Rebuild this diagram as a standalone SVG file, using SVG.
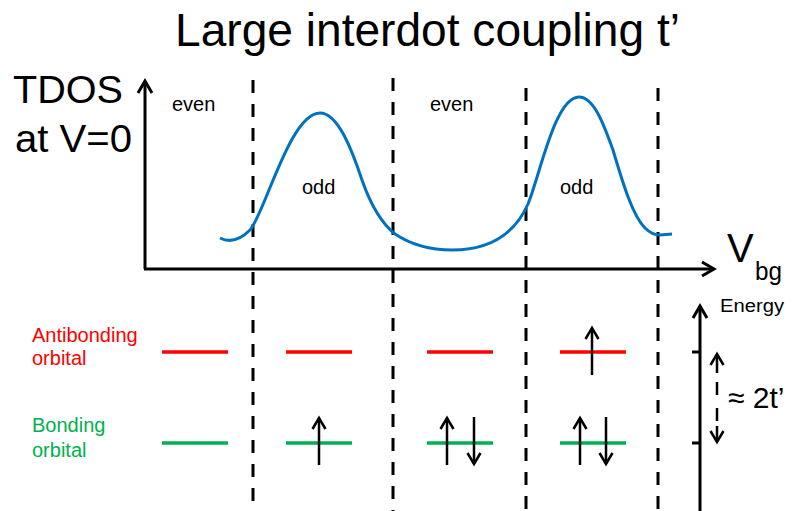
<svg xmlns="http://www.w3.org/2000/svg" width="795" height="511" viewBox="0 0 795 511">
<defs>
<style>
text{font-family:"Liberation Sans",Arial,sans-serif;fill:#000}
.ax{stroke:#000;stroke-width:3;fill:none}
.dash{stroke:#000;stroke-width:3;stroke-dasharray:13 11;fill:none}
.anti{stroke:#FF0000;stroke-width:3.5}
.bond{stroke:#00B050;stroke-width:3.5}
.spin{stroke:#000;stroke-width:2.5;fill:none}
.lbl{font-size:20px}
.red{fill:#FF0000}
.grn{fill:#00B050}
</style>
<marker id="ah" markerUnits="userSpaceOnUse" markerWidth="20" markerHeight="20" viewBox="-14 -10 18 20" refX="0" refY="0" orient="auto">
<path d="M-12,-7 L0,0 L-12,7" fill="none" stroke="#000" stroke-width="3" stroke-linejoin="miter"/>
</marker>
<marker id="sh" markerUnits="userSpaceOnUse" markerWidth="20" markerHeight="20" viewBox="-14 -10 18 20" refX="0" refY="0" orient="auto">
<path d="M-11,-6.5 L0,0 L-11,6.5" fill="none" stroke="#000" stroke-width="2.5"/>
</marker>
</defs>
<rect width="795" height="511" fill="#fff"/>
<g id="title"><text x="175" y="46" font-size="46" textLength="505" lengthAdjust="spacingAndGlyphs">Large interdot coupling t’</text></g>
<g id="tdos-label">
<text x="13" y="103" font-size="38" textLength="110" lengthAdjust="spacingAndGlyphs">TDOS</text>
<text x="15" y="152" font-size="38" textLength="117" lengthAdjust="spacingAndGlyphs">at V=0</text>
</g>
<g id="vbg-label">
<text x="727" y="262" font-size="40">V</text>
<text x="755" y="280" font-size="26" textLength="27" lengthAdjust="spacingAndGlyphs">bg</text>
</g>
<g id="connectors">
<line class="ax" x1="145" y1="269" x2="145" y2="81" marker-end="url(#ah)"/>
<line class="ax" x1="144" y1="269" x2="714" y2="269" marker-end="url(#ah)"/>
<line class="dash" x1="253" y1="80" x2="253" y2="511"/>
<line class="dash" x1="393" y1="78" x2="393" y2="511"/>
<line class="dash" x1="526" y1="88" x2="526" y2="511"/>
<line class="dash" x1="658" y1="88" x2="658" y2="511"/>
<line class="ax" x1="700" y1="511" x2="700" y2="306" marker-end="url(#ah)"/>
<line class="ax" x1="692" y1="352" x2="700" y2="352"/>
<line class="ax" x1="692" y1="443" x2="700" y2="443"/>
</g>
<g id="tdos-curve">
<path d="M220,238 C228,242 238,242 250,230 C265,213 290,113 320,113 C338,113 352,150 362,180 C370,203 380,222 395,234 C410,244 430,250 452,250 C482,250 512,240 528,204 C540,175 555,97 579,97 C594,97 604,125 613,150 C622,180 632,215 645,228 C650,233 655,235 660,235 L672,234" fill="none" stroke="#0070C0" stroke-width="3"/>
</g>
<g id="region-labels">
<text class="lbl" x="172" y="111">even</text>
<text class="lbl" x="302" y="194">odd</text>
<text class="lbl" x="430" y="111">even</text>
<text class="lbl" x="560" y="194">odd</text>
</g>
<g id="antibonding-label">
<text class="lbl red" x="32" y="342">Antibonding</text>
<text class="lbl red" x="32" y="365">orbital</text>
</g>
<g id="bonding-label">
<text class="lbl grn" x="32" y="432">Bonding</text>
<text class="lbl grn" x="32" y="457">orbital</text>
</g>
<g id="levels">
<line class="anti" x1="162" y1="352" x2="228" y2="352"/>
<line class="anti" x1="286" y1="352" x2="352" y2="352"/>
<line class="anti" x1="427" y1="352" x2="493" y2="352"/>
<line class="anti" x1="560" y1="352" x2="626" y2="352"/>
<line class="bond" x1="162" y1="443" x2="228" y2="443"/>
<line class="bond" x1="286" y1="443" x2="352" y2="443"/>
<line class="bond" x1="427" y1="443" x2="493" y2="443"/>
<line class="bond" x1="560" y1="443" x2="626" y2="443"/>
</g>
<g id="spins">
<line class="spin" x1="319" y1="465" x2="319" y2="418" marker-end="url(#sh)"/>
<line class="spin" x1="447" y1="465" x2="447" y2="418" marker-end="url(#sh)"/>
<line class="spin" x1="474" y1="417" x2="474" y2="464" marker-end="url(#sh)"/>
<line class="spin" x1="580" y1="465" x2="580" y2="418" marker-end="url(#sh)"/>
<line class="spin" x1="606" y1="417" x2="606" y2="464" marker-end="url(#sh)"/>
<line class="spin" x1="592" y1="375" x2="592" y2="328" marker-end="url(#sh)"/>
</g>
<g id="energy-axis">
<text x="720" y="312" font-size="18" textLength="64" lengthAdjust="spacingAndGlyphs">Energy</text>
</g>
<g id="splitting">
<path class="spin" d="M717,373 V355 M717,382 V395 M717,408 V421 M717,426 V440"/>
<path class="spin" d="M710.5,365 L717,354 L723.5,365 M710.5,431 L717,442 L723.5,431"/>
<text x="728" y="408" font-size="30">≈ 2t’</text>
</g>
</svg>
